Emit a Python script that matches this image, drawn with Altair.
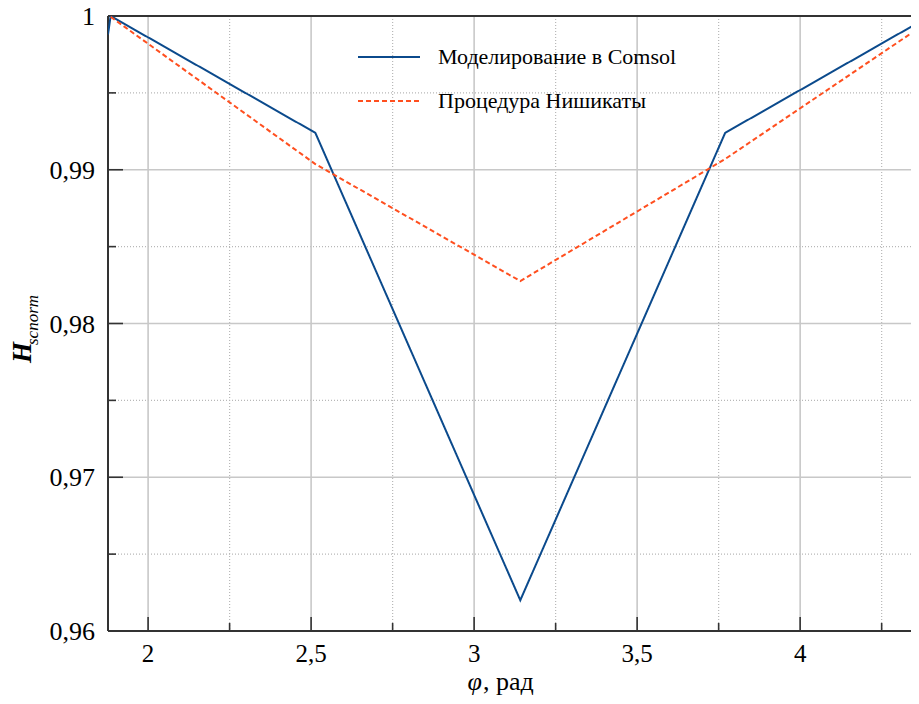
import altair as alt
import pandas as pd

# ---- data ----
series = ["Моделирование в Comsol", "Процедура Нишикаты"]
x_blue = [1.877, 1.885, 2.513, 3.1416, 3.770, 4.398]
y_blue = [0.9988, 1.0000, 0.9924, 0.9620, 0.9924, 1.0000]
x_red = [1.885, 2.513, 3.1416, 3.770, 4.398]
y_red = [0.99995, 0.99037, 0.98276, 0.9907, 0.9997]

x_major = [2, 2.5, 3, 3.5, 4]
x_labels = ["2", "2,5", "3", "3,5", "4"]
x_minor = [2.25, 2.75, 3.25, 3.75, 4.25]
y_major = [0.96, 0.97, 0.98, 0.99, 1.0]
y_labels = ["0,96", "0,97", "0,98", "0,99", "1"]
y_grid = [0.97, 0.98, 0.99]
y_minor = [0.965, 0.975, 0.985, 0.995]

x_title_sym = "φ"
x_title_rest = ", рад"
y_title_main = "H"
y_title_sub = "scnorm"

FONT = "Liberation Serif"
W, H = 803, 615

lines_df = pd.DataFrame(
    {"x": x_blue + x_red,
     "y": y_blue + y_red,
     "s": [series[0]] * len(x_blue) + [series[1]] * len(x_red),
     "o": list(range(len(x_blue))) + list(range(len(x_red)))}
)
xmaj_df = pd.DataFrame({"v": x_major, "lab": x_labels})
xmin_df = pd.DataFrame({"v": x_minor})
ygrid_df = pd.DataFrame({"v": y_grid})
ymaj_df = pd.DataFrame({"v": y_major, "lab": y_labels})
ymin_df = pd.DataFrame({"v": y_minor})

xs = alt.Scale(domain=[1.877, 4.340], nice=False, zero=False)
ys = alt.Scale(domain=[0.96, 1.0], nice=False, zero=False)

GRID = "#c8c8c8"
TICK = "#333333"

gx_major = alt.Chart(xmaj_df).mark_rule(color=GRID, strokeWidth=1.6).encode(
    x=alt.X("v:Q", scale=xs, axis=None))
gx_minor = alt.Chart(xmin_df).mark_rule(color="#b8b8b8", strokeWidth=1.2, strokeDash=[1, 2]).encode(
    x=alt.X("v:Q", scale=xs, axis=None))
gy_major = alt.Chart(ygrid_df).mark_rule(color=GRID, strokeWidth=1.6).encode(
    y=alt.Y("v:Q", scale=ys, axis=None))
gy_minor = alt.Chart(ymin_df).mark_rule(color="#b8b8b8", strokeWidth=1.2, strokeDash=[1, 2]).encode(
    y=alt.Y("v:Q", scale=ys, axis=None))

tx_major = alt.Chart(xmaj_df).mark_rule(color=TICK, strokeWidth=1.6).encode(
    x=alt.X("v:Q", scale=xs, axis=None), y=alt.value(H), y2=alt.value(H - 14))
tx_minor = alt.Chart(xmin_df).mark_rule(color=TICK, strokeWidth=1.6).encode(
    x=alt.X("v:Q", scale=xs, axis=None), y=alt.value(H), y2=alt.value(H - 8))
ty_major = alt.Chart(ymaj_df).mark_rule(color=TICK, strokeWidth=1.6).encode(
    y=alt.Y("v:Q", scale=ys, axis=None), x=alt.value(0), x2=alt.value(15))
ty_minor = alt.Chart(ymin_df).mark_rule(color=TICK, strokeWidth=1.6).encode(
    y=alt.Y("v:Q", scale=ys, axis=None), x=alt.value(0), x2=alt.value(8))

# tick labels
xl = alt.Chart(xmaj_df).mark_text(font=FONT, fontSize=25, color="black", align="center",
                                  baseline="top").encode(
    x=alt.X("v:Q", scale=xs, axis=None), y=alt.value(H + 11), text="lab:N")
yl = alt.Chart(ymaj_df).mark_text(font=FONT, fontSize=26, color="black", align="right",
                                  baseline="middle", dy=1).encode(
    y=alt.Y("v:Q", scale=ys, axis=None), x=alt.value(-13), text="lab:N")

# frame: top, left, bottom (right edge lies beyond the window in the reference)
frame_top = alt.Chart(xmaj_df).mark_rule(color=TICK, strokeWidth=1.8).encode(
    y=alt.value(0), x=alt.value(0), x2=alt.value(W))
frame_bottom = alt.Chart(xmaj_df).mark_rule(color=TICK, strokeWidth=1.8).encode(
    y=alt.value(H), x=alt.value(0), x2=alt.value(W))
frame_left = alt.Chart(xmaj_df).mark_rule(color=TICK, strokeWidth=1.8).encode(
    x=alt.value(0), y=alt.value(0), y2=alt.value(H))

legend = alt.Legend(
    title=None, orient="none", legendX=249, legendY=31,
    symbolType="stroke", symbolSize=3844, symbolStrokeWidth=2, clipHeight=20,
    labelFont=FONT, labelFontSize=22, labelColor="black", labelOffset=17,
    rowPadding=22, padding=0, labelLimit=400,
)

lines = alt.Chart(lines_df).mark_line(strokeWidth=2, clip=True).encode(
    x=alt.X("x:Q", scale=xs, axis=None),
    y=alt.Y("y:Q", scale=ys, axis=None),
    color=alt.Color("s:N", scale=alt.Scale(domain=series, range=["#0b4a8c", "#ff4f1f"]), legend=legend),
    strokeDash=alt.StrokeDash("s:N", scale=alt.Scale(domain=series, range=[[1, 0], [5, 3]]), legend=legend),
    order="o:Q",
)

t_phi = alt.Chart(pd.DataFrame({"t": [x_title_sym]})).mark_text(
    font=FONT, fontSize=26, fontStyle="italic", align="right", baseline="alphabetic", color="black"
).encode(text="t:N", x=alt.value(374), y=alt.value(H + 59))
t_rest = alt.Chart(pd.DataFrame({"t": [x_title_rest]})).mark_text(
    font=FONT, fontSize=26, align="left", baseline="alphabetic", color="black"
).encode(text="t:N", x=alt.value(375), y=alt.value(H + 59))
t_main = alt.Chart(pd.DataFrame({"t": [y_title_main]})).mark_text(
    font=FONT, fontSize=27, fontStyle="italic", fontWeight="bold", angle=270, align="left",
    baseline="alphabetic", color="black").encode(text="t:N", x=alt.value(-77), y=alt.value(347))
t_sub = alt.Chart(pd.DataFrame({"t": [y_title_sub]})).mark_text(
    font=FONT, fontSize=17, fontStyle="italic", angle=270, align="left", baseline="alphabetic",
    color="black").encode(text="t:N", x=alt.value(-70), y=alt.value(329))

chart = alt.layer(
    gx_minor, gy_minor, gx_major, gy_major, tx_major, tx_minor, ty_major, ty_minor,
    frame_top, frame_bottom, frame_left, lines, xl, yl, t_phi, t_rest, t_main, t_sub
).properties(
    width=W, height=H,
    autosize=alt.AutoSizeParams(type="none"),
    padding={"left": 100, "top": 8, "right": 0, "bottom": 65},
).configure_view(strokeWidth=0, stroke=None)

chart.save("out.html", embed_options={"renderer": "svg", "actions": False})
